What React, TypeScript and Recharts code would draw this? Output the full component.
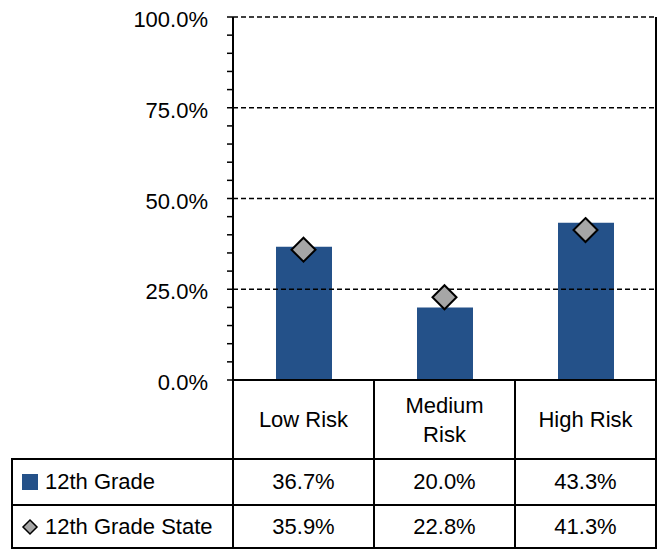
import {
  Bar,
  ComposedChart,
  Line,
  ReferenceLine,
  XAxis,
  YAxis,
} from "recharts";

const categories = ["Low Risk", "Medium Risk", "High Risk"];
const gradeValues = [0.367, 0.2, 0.433];
const stateValues = [0.359, 0.228, 0.413];
const seriesNames = ["12th Grade", "12th Grade State"];
const yTicks = [0, 0.05, 0.1, 0.15, 0.2, 0.25, 0.3, 0.35, 0.4, 0.45, 0.5, 0.55, 0.6, 0.65, 0.7, 0.75, 0.8, 0.85, 0.9, 0.95, 1];
const majorTicks = [0, 0.25, 0.5, 0.75, 1];
const gridValues = [0.25, 0.5, 0.75, 1];

const data = categories.map((c, i) => ({ cat: c, grade: gradeValues[i], state: stateValues[i] }));

const BLUE = "#245189";
const GRAY = "#a6a6a6";
const FONT = "'Liberation Sans', Arial, sans-serif";
const FS = 22;

const W = 658;
const H = 550;
const plotLeft = 233;
const plotRight = 656;
const plotTop = 17;
const plotBottom = 380;
const catRowBottom = 459;
const rowBottoms = [505, 548];
const tableLeft = 12;

const pct = (v: number) => (v * 100).toFixed(1) + "%";

function YTick(props: any) {
  const { y, payload } = props;
  const isMajor = majorTicks.some((m) => Math.abs(m - payload.value) < 1e-6);
  if (!isMajor) return null;
  return (
    <text x={208} y={y} dy={10} textAnchor="end" fontSize={FS} fontFamily={FONT} fill="#000">
      {pct(payload.value)}
    </text>
  );
}

function Diamond(props: any) {
  const { cx, cy } = props;
  if (cx == null || cy == null) return null;
  const r = 12;
  return (
    <path
      d={`M${cx},${cy - r} L${cx + r},${cy} L${cx},${cy + r} L${cx - r},${cy} Z`}
      fill={GRAY}
      stroke="#000"
      strokeWidth={2}
    />
  );
}

function DiamondIcon() {
  return (
    <svg width={18} height={18} style={{ marginRight: 6 }}>
      <path d="M9,2 L16,9 L9,16 L2,9 Z" fill={GRAY} stroke="#000" strokeWidth={1.5} />
    </svg>
  );
}

function SquareIcon() {
  return <span style={{ display: "inline-block", width: 16, height: 16, background: BLUE, marginRight: 7, marginLeft: 1 }} />;
}

export default function App() {
  const colW = (plotRight - plotLeft) / categories.length;
  const rows = [gradeValues, stateValues];
  const border = "2px solid #000";

  return (
    <div
      style={{
        position: "fixed",
        top: 0,
        left: 0,
        width: W,
        height: H,
        overflow: "hidden",
        fontFamily: FONT,
        background: "#fff",
      }}
    >
      <ComposedChart
        width={W}
        height={H}
        data={data}
        margin={{ top: plotTop, right: W - plotRight, bottom: H - catRowBottom, left: 0 }}
        barCategoryGap={0}
      >
        <XAxis
          dataKey="cat"
          height={catRowBottom - plotBottom}
          tick={false}
          tickLine={false}
          axisLine={{ stroke: "#000", strokeWidth: 2 }}
        />
        <YAxis
          width={plotLeft}
          domain={[0, 1]}
          ticks={yTicks}
          interval={0}
          tick={<YTick />}
          tickSize={6}
          tickLine={{ stroke: "#000", strokeWidth: 1.5 }}
          axisLine={{ stroke: "#000", strokeWidth: 2 }}
        />
        {gridValues.map((v) => (
          <ReferenceLine key={v} y={v} stroke="#000" strokeWidth={1.5} strokeDasharray="5 3" />
        ))}
        <Bar dataKey="grade" fill={BLUE} barSize={56} isAnimationActive={false} />
        <Line
          dataKey="state"
          stroke="none"
          dot={<Diamond />}
          activeDot={false}
          isAnimationActive={false}
        />
      </ComposedChart>

      <div
        style={{
          position: "absolute",
          left: plotRight - 1,
          top: plotTop,
          width: 2,
          height: plotBottom - plotTop,
          background: "#000",
        }}
      />

      {categories.map((c, i) => (
        <div
          key={c}
          style={{
            position: "absolute",
            left: plotLeft + i * colW - 1,
            top: plotBottom,
            width: colW + 2,
            height: catRowBottom - plotBottom,
            boxSizing: "border-box",
            borderLeft: border,
            borderRight: border,
            display: "flex",
            alignItems: "center",
            justifyContent: "center",
            textAlign: "center",
            padding: "0 20px",
            fontSize: FS,
            lineHeight: "29px",
          }}
        >
          {c}
        </div>
      ))}

      {rows.map((vals, r) => {
        const top = r === 0 ? catRowBottom : rowBottoms[r - 1];
        const h = rowBottoms[r] - top;
        return (
          <div key={seriesNames[r]}>
            <div
              style={{
                position: "absolute",
                left: tableLeft - 1,
                top: top - 1,
                width: plotLeft - tableLeft + 2,
                height: h + 2,
                boxSizing: "border-box",
                border: border,
                display: "flex",
                alignItems: "center",
                paddingLeft: 8,
                fontSize: FS,
              }}
            >
              {r === 0 ? <SquareIcon /> : <DiamondIcon />}
              {seriesNames[r]}
            </div>
            {vals.map((v, i) => (
              <div
                key={i}
                style={{
                  position: "absolute",
                  left: plotLeft + i * colW - 1,
                  top: top - 1,
                  width: colW + 2,
                  height: h + 2,
                  boxSizing: "border-box",
                  border: border,
                  display: "flex",
                  alignItems: "center",
                  justifyContent: "center",
                  fontSize: FS,
                }}
              >
                {pct(v)}
              </div>
            ))}
          </div>
        );
      })}
    </div>
  );
}
